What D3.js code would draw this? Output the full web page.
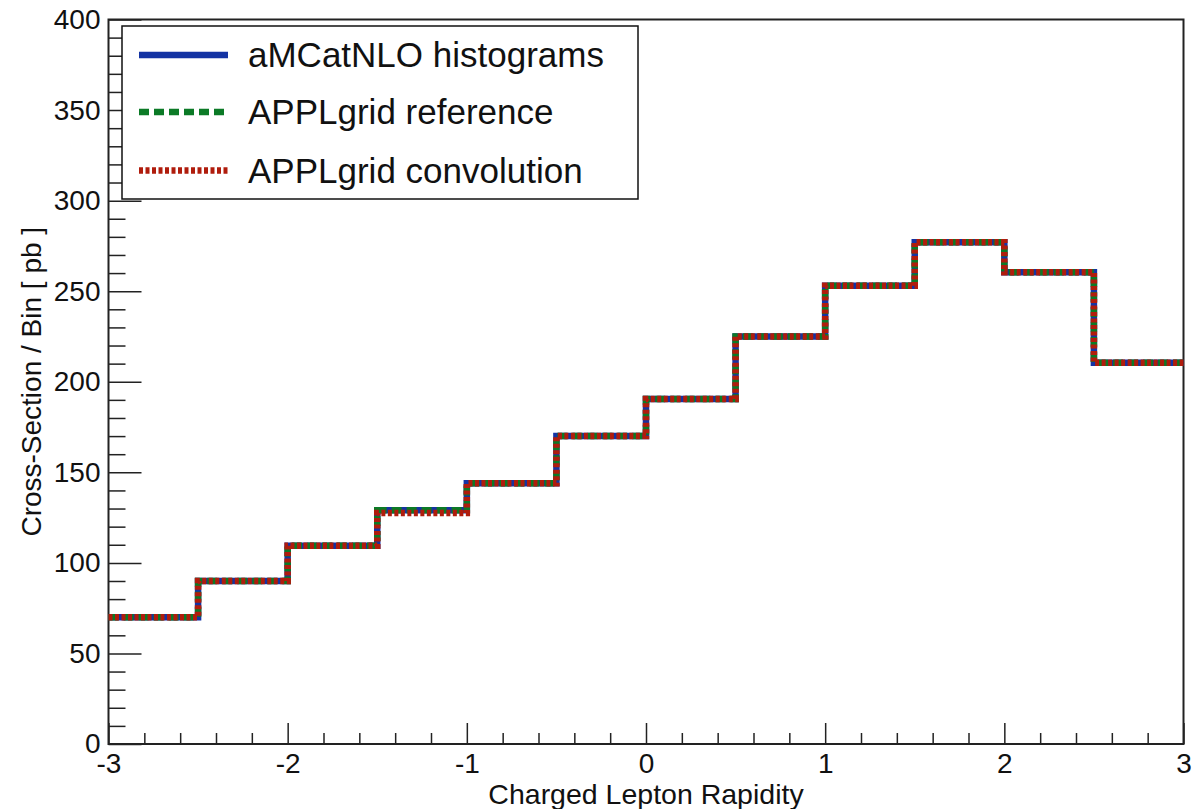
<!DOCTYPE html>
<html>
<head>
<meta charset="utf-8">
<script src="https://cdn.jsdelivr.net/npm/d3@7"></script>
<style>
  html, body { margin: 0; padding: 0; background: #fff; }
  svg { display: block; font-family: "Liberation Sans", Arial, Helvetica, sans-serif; }
</style>
</head>
<body>
<svg id="chart" width="1192" height="809"></svg>
<script>
// Bin edges of the charged lepton rapidity histogram
const binEdges = [-3, -2.5, -2, -1.5, -1, -0.5, 0, 0.5, 1, 1.5, 2, 2.5, 3];
// Cross-section per bin [pb]
const amcatnloValues = [70, 90, 109.5, 129, 144, 170, 190.5, 225, 253, 277, 260.5, 210.5];
const applReferenceValues = [70, 90, 109.5, 129, 144, 170, 190.5, 225, 253, 277, 260.5, 210.5];
const applConvolutionValues = [70, 90, 109.5, 127.5, 144, 170, 190.5, 225, 253, 277, 260.5, 210.5];

const xTicks = [-3, -2, -1, 0, 1, 2, 3];
const yTicks = [0, 50, 100, 150, 200, 250, 300, 350, 400];

const seriesNames = ["aMCatNLO histograms", "APPLgrid reference", "APPLgrid convolution"];
const seriesColors = ["#1433a3", "#0b7a26", "#b01c0c"];
const seriesDash = [null, "10,5", "4,2.5"];

const svg = d3.select("#chart");
const frame = { left: 108.5, right: 1183.5, top: 19.5, bottom: 744 };

const x = d3.scaleLinear().domain([-3, 3]).range([frame.left, frame.right]);
const y = d3.scaleLinear().domain([0, 400]).range([frame.bottom, frame.top]);

// minor ticks
const xMinor = d3.range(-3, 3.0001, 0.2).filter(v => Math.abs(v - Math.round(v)) > 1e-6);
const yMinor = d3.range(0, 400.001, 10).filter(v => v % 50 !== 0);

const axisG = svg.append("g");

// X axis: ticks pointing into the frame
const xAxis = d3.axisBottom(x).tickValues(xTicks).tickSize(-21).tickPadding(29)
  .tickFormat(d => d < 0 ? "-" + Math.abs(d) : d);
const gx = axisG.append("g").attr("transform", `translate(0,${frame.bottom})`).call(xAxis);
gx.select(".domain").remove();
gx.selectAll(".tick line").attr("stroke", "#222").attr("stroke-width", 1.5);
gx.selectAll(".tick text").attr("font-size", 28).attr("fill", "#111").attr("dy", 0);

const gxm = axisG.append("g").attr("transform", `translate(0,${frame.bottom})`)
  .call(d3.axisBottom(x).tickValues(xMinor).tickSize(-11).tickFormat(""));
gxm.select(".domain").remove();
gxm.selectAll(".tick line").attr("stroke", "#222").attr("stroke-width", 1.5);

// Y axis
const yAxis = d3.axisLeft(y).tickValues(yTicks).tickSize(-33).tickPadding(8);
const gy = axisG.append("g").attr("transform", `translate(${frame.left},0)`).call(yAxis);
gy.select(".domain").remove();
gy.selectAll(".tick line").attr("stroke", "#222").attr("stroke-width", 1.5);
gy.selectAll(".tick text").attr("font-size", 28).attr("fill", "#111");

const gym = axisG.append("g").attr("transform", `translate(${frame.left},0)`)
  .call(d3.axisLeft(y).tickValues(yMinor).tickSize(-17).tickFormat(""));
gym.select(".domain").remove();
gym.selectAll(".tick line").attr("stroke", "#222").attr("stroke-width", 1.5);

// Frame
svg.append("rect")
  .attr("x", frame.left).attr("y", frame.top)
  .attr("width", frame.right - frame.left).attr("height", frame.bottom - frame.top)
  .attr("fill", "none").attr("stroke", "#222").attr("stroke-width", 2);

// Histograms drawn as steps
const line = d3.line().x(d => x(d[0])).y(d => y(d[1])).curve(d3.curveStepAfter);
function stepPoints(vals) {
  const pts = vals.map((v, i) => [binEdges[i], v]);
  pts.push([binEdges[binEdges.length - 1], vals[vals.length - 1]]);
  return pts;
}
const allSeries = [amcatnloValues, applReferenceValues, applConvolutionValues];
const plot = svg.append("g");
allSeries.forEach((vals, i) => {
  plot.append("path")
    .attr("d", line(stepPoints(vals)))
    .attr("fill", "none")
    .attr("stroke", seriesColors[i])
    .attr("stroke-width", 6.5)
    .attr("stroke-linejoin", "miter")
    .attr("stroke-dasharray", seriesDash[i]);
});

// Legend
const legend = svg.append("g");
legend.append("rect")
  .attr("x", 122).attr("y", 26).attr("width", 516).attr("height", 173)
  .attr("fill", "#fff").attr("stroke", "#111").attr("stroke-width", 1.5);
const legendRows = [55, 112, 170.5];
seriesNames.forEach((name, i) => {
  legend.append("line")
    .attr("x1", 139).attr("x2", 228)
    .attr("y1", legendRows[i]).attr("y2", legendRows[i])
    .attr("stroke", seriesColors[i]).attr("stroke-width", 6.5)
    .attr("stroke-dasharray", seriesDash[i]);
  legend.append("text")
    .attr("x", 248).attr("y", legendRows[i] + 12)
    .attr("font-size", 35).attr("fill", "#111")
    .text(name);
});

// Axis titles
svg.append("text")
  .attr("x", (frame.left + frame.right) / 2).attr("y", 804)
  .attr("text-anchor", "middle").attr("font-size", 28.5).attr("fill", "#111")
  .text("Charged Lepton Rapidity");
svg.append("text")
  .attr("transform", `translate(41,${(frame.top + frame.bottom) / 2}) rotate(-90)`)
  .attr("text-anchor", "middle").attr("font-size", 28).attr("fill", "#111")
  .text("Cross-Section / Bin [ pb ]");
</script>
</body>
</html>
